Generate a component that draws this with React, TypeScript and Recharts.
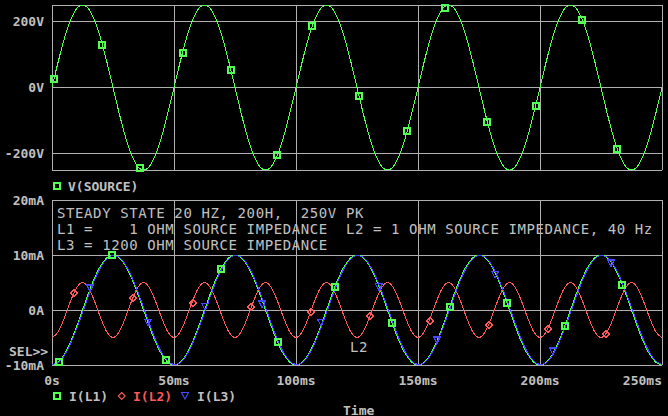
import { ComposedChart, Line, Scatter, XAxis, YAxis, CartesianGrid } from "recharts";

// time grid (ms), one sample every 2.5 ms from 0 to 250 ms
const timeMs = Array.from({ length: 101 }, (_, i) => i * 2.5);

// V(SOURCE) in volts
const vSource = [
  0, 77, 147, 202, 238, 250, 238, 202, 147, 77, 0, -77, -147, -202, -238, -250, -238, -202, -147, -77,
  0, 77, 147, 202, 238, 250, 238, 202, 147, 77, 0, -77, -147, -202, -238, -250, -238, -202, -147, -77,
  0, 77, 147, 202, 238, 250, 238, 202, 147, 77, 0, -77, -147, -202, -238, -250, -238, -202, -147, -77,
  0, 77, 147, 202, 238, 250, 238, 202, 147, 77, 0, -77, -147, -202, -238, -250, -238, -202, -147, -77,
  0, 77, 147, 202, 238, 250, 238, 202, 147, 77, 0, -77, -147, -202, -238, -250, -238, -202, -147, -77,
  0,
];

// currents in mA
const iL1 = [
  -10, -9.5, -8.1, -5.9, -3.1, 0, 3.1, 5.9, 8.1, 9.5, 10, 9.5, 8.1, 5.9, 3.1, 0, -3.1, -5.9, -8.1, -9.5,
  -10, -9.5, -8.1, -5.9, -3.1, 0, 3.1, 5.9, 8.1, 9.5, 10, 9.5, 8.1, 5.9, 3.1, 0, -3.1, -5.9, -8.1, -9.5,
  -10, -9.5, -8.1, -5.9, -3.1, 0, 3.1, 5.9, 8.1, 9.5, 10, 9.5, 8.1, 5.9, 3.1, 0, -3.1, -5.9, -8.1, -9.5,
  -10, -9.5, -8.1, -5.9, -3.1, 0, 3.1, 5.9, 8.1, 9.5, 10, 9.5, 8.1, 5.9, 3.1, 0, -3.1, -5.9, -8.1, -9.5,
  -10, -9.5, -8.1, -5.9, -3.1, 0, 3.1, 5.9, 8.1, 9.5, 10, 9.5, 8.1, 5.9, 3.1, 0, -3.1, -5.9, -8.1, -9.5,
  -10,
];

const iL2 = [
  -5, -4, -1.5, 1.5, 4, 5, 4, 1.5, -1.5, -4, -5, -4, -1.5, 1.5, 4, 5, 4, 1.5, -1.5, -4,
  -5, -4, -1.5, 1.5, 4, 5, 4, 1.5, -1.5, -4, -5, -4, -1.5, 1.5, 4, 5, 4, 1.5, -1.5, -4,
  -5, -4, -1.5, 1.5, 4, 5, 4, 1.5, -1.5, -4, -5, -4, -1.5, 1.5, 4, 5, 4, 1.5, -1.5, -4,
  -5, -4, -1.5, 1.5, 4, 5, 4, 1.5, -1.5, -4, -5, -4, -1.5, 1.5, 4, 5, 4, 1.5, -1.5, -4,
  -5, -4, -1.5, 1.5, 4, 5, 4, 1.5, -1.5, -4, -5, -4, -1.5, 1.5, 4, 5, 4, 1.5, -1.5, -4,
  -5,
];

const iL3 = [
  -9.9, -9.6, -8.3, -6.2, -3.5, -0.5, 2.6, 5.5, 7.8, 9.3, 9.9, 9.6, 8.3, 6.2, 3.5, 0.5, -2.6, -5.5, -7.8, -9.3,
  -9.9, -9.6, -8.3, -6.2, -3.5, -0.5, 2.6, 5.5, 7.8, 9.3, 9.9, 9.6, 8.3, 6.2, 3.5, 0.5, -2.6, -5.5, -7.8, -9.3,
  -9.9, -9.6, -8.3, -6.2, -3.5, -0.5, 2.6, 5.5, 7.8, 9.3, 9.9, 9.6, 8.3, 6.2, 3.5, 0.5, -2.6, -5.5, -7.8, -9.3,
  -9.9, -9.6, -8.3, -6.2, -3.5, -0.5, 2.6, 5.5, 7.8, 9.3, 9.9, 9.6, 8.3, 6.2, 3.5, 0.5, -2.6, -5.5, -7.8, -9.3,
  -9.9, -9.6, -8.3, -6.2, -3.5, -0.5, 2.6, 5.5, 7.8, 9.3, 9.9, 9.6, 8.3, 6.2, 3.5, 0.5, -2.6, -5.5, -7.8, -9.3,
  -9.9,
];

// marker points as placed by the plotter
const vMarkT = [0.8, 20.5, 36.1, 53.7, 73.4, 92.2, 106.6, 125.8, 145.5, 161.1, 178.3, 198.4, 217.2, 231.6];
const vMarkV = [27, 130, -245, 106, 52, -206, 185, -27, -133, 242, -106, -55, 206, -185];
const l1MarkT = [2.9, 24.6, 46.7, 69.3, 92.6, 116.0, 139.3, 163.1, 186.5, 210.2, 233.6];
const l1MarkV = [-9.4, 10, -9.0, 7.5, -5.9, 4.2, -2.4, 0.6, 1.2, -2.9, 4.6];
const l2MarkT = [9.0, 33.2, 57.8, 81.6, 106.1, 130.3, 154.9, 179.1, 203.3, 227.0];
const l2MarkV = [3.1, 2.2, 1.3, 0.55, -0.35, -1.1, -2.0, -2.7, -3.45, -4.35];
const l3MarkT = [15.6, 39.3, 62.7, 86.1, 110.2, 134.0, 157.8, 181.6, 205.3, 229.1];
const l3MarkV = [4.0, -2.2, 0.7, 1.1, -2.2, 4.2, -5.45, 6.5, -7.45, 8.55];

const timeTicks = [0, 50, 100, 150, 200, 250];
const timeLabels = ["0s", "50ms", "100ms", "150ms", "200ms", "250ms"];
const voltTicks = [-250, -200, 0, 200, 250];
const voltLabels: Record<number, string> = { "-200": "-200V", 0: "0V", 200: "200V" };
const ampTicks = [-10, 0, 10, 20];
const ampLabels: Record<number, string> = { "-10": "-10mA", 0: "0A", 10: "10mA", 20: "20mA" };

const GREEN = "#52ff52";
const RED = "#ff5858";
const BLUE = "#4848ff";
const GRAY = "#c0c0c0";
const GRID = "#b0b0b0";
const MONO = "'DejaVu Sans Mono', 'Liberation Mono', monospace";

const topData = timeMs.map((t, i) => ({ t, v: vSource[i] }));
const botData = timeMs.map((t, i) => ({ t, l1: iL1[i], l2: iL2[i], l3: iL3[i] }));
const marks = (ts: number[], vs: number[]) => ts.map((t, i) => ({ t, m: vs[i] }));

const Square = (p: any) => (
  <rect x={Math.round(p.cx) - 3} y={Math.round(p.cy) - 3} width={6} height={6} fill="none" stroke={GREEN} strokeWidth={1.3} />
);
const Diamond = (p: any) => (
  <path d={`M${p.cx},${p.cy - 3.5}L${p.cx + 3.5},${p.cy}L${p.cx},${p.cy + 3.5}L${p.cx - 3.5},${p.cy}Z`} fill="none" stroke={RED} strokeWidth={1.1} />
);
const Tri = (p: any) => (
  <path d={`M${p.cx - 3.5},${p.cy - 3}L${p.cx + 3.5},${p.cy - 3}L${p.cx},${p.cy + 3.5}Z`} fill="none" stroke={BLUE} strokeWidth={1.1} />
);

const yTick = (labels: Record<number, string>) => (p: any) => (
  <text x={p.x} y={p.y} dy={4.6} textAnchor="end" fill={GRAY} fontFamily={MONO} fontWeight="bold" fontSize={13}>
    {labels[p.payload.value] ?? ""}
  </text>
);

const xTick = (p: any) => {
  const idx = timeTicks.indexOf(p.payload.value);
  return (
    <text x={p.x} y={p.y} dy={20} textAnchor={idx === timeTicks.length - 1 ? "end" : "middle"} fill={GRAY} fontFamily={MONO} fontWeight="bold" fontSize={13}>
      {timeLabels[idx]}
    </text>
  );
};

export default function App() {
  const small = { fill: GRAY, fontFamily: MONO, fontWeight: "bold" as const, fontSize: 13 };
  const big = { fill: GRAY, fontFamily: MONO, fontSize: 14, letterSpacing: 0.6 };
  const crisp = { shapeRendering: "crispEdges" } as any;
  return (
    <div style={{ position: "absolute", left: 0, top: 0, width: 668, height: 416, background: "#000", overflow: "hidden" }}>
      <div style={{ position: "absolute", left: 0, top: 0, ...crisp }}>
        <ComposedChart width={668} height={195} data={topData} margin={{ top: 5, right: 6, bottom: 25, left: 0 }}>
          <CartesianGrid stroke={GRID} strokeWidth={1} />
          <XAxis dataKey="t" type="number" domain={[0, 250]} ticks={timeTicks} hide />
          <YAxis type="number" domain={[-250, 250]} ticks={voltTicks} width={52} axisLine={false} tickLine={false} tickSize={0} tickMargin={8} tick={yTick(voltLabels)} interval={0} />
          <Line dataKey="v" type="monotone" stroke={GREEN} strokeWidth={1} dot={false} activeDot={false} isAnimationActive={false} />
          <Scatter data={marks(vMarkT, vMarkV)} dataKey="m" shape={Square} isAnimationActive={false} />
        </ComposedChart>
      </div>
      <div style={{ position: "absolute", left: 0, top: 185, ...crisp }}>
        <ComposedChart width={668} height={231} data={botData} margin={{ top: 15, right: 6, bottom: 31, left: 0 }}>
          <CartesianGrid stroke={GRID} strokeWidth={1} />
          <XAxis dataKey="t" type="number" domain={[0, 250]} ticks={timeTicks} height={20} axisLine={false} tickLine={false} tickSize={0} tickMargin={0} tick={xTick} interval={0} />
          <YAxis type="number" domain={[-10, 20]} ticks={ampTicks} width={52} axisLine={false} tickLine={false} tickSize={0} tickMargin={8} tick={yTick(ampLabels)} interval={0} />
          <Line dataKey="l1" type="monotone" stroke={GREEN} strokeWidth={1} dot={false} activeDot={false} isAnimationActive={false} />
          <Line dataKey="l2" type="monotone" stroke={RED} strokeWidth={1} dot={false} activeDot={false} isAnimationActive={false} />
          <Line dataKey="l3" type="monotone" stroke={BLUE} strokeWidth={1} dot={false} activeDot={false} isAnimationActive={false} />
          <Scatter data={marks(l1MarkT, l1MarkV)} dataKey="m" shape={Square} isAnimationActive={false} />
          <Scatter data={marks(l2MarkT, l2MarkV)} dataKey="m" shape={Diamond} isAnimationActive={false} />
          <Scatter data={marks(l3MarkT, l3MarkV)} dataKey="m" shape={Tri} isAnimationActive={false} />
        </ComposedChart>
      </div>
      <svg width={668} height={416} style={{ position: "absolute", left: 0, top: 0, pointerEvents: "none" }}>
        {/* upper legend */}
        <rect x={54} y={183} width={6} height={6} fill="none" stroke={GREEN} strokeWidth={1.3} shapeRendering="crispEdges" />
        <text x={68} y={191} {...small}>V(SOURCE)</text>
        {/* annotation block */}
        <text x={57} y={218} {...big} xmlSpace="preserve" style={{ whiteSpace: "pre" }}>STEADY STATE 20 HZ, 200H,  250V PK</text>
        <text x={57} y={234} {...big} xmlSpace="preserve" style={{ whiteSpace: "pre" }}>L1 =    1 OHM SOURCE IMPEDANCE  L2 = 1 OHM SOURCE IMPEDANCE, 40 Hz</text>
        <text x={57} y={250} {...big} xmlSpace="preserve" style={{ whiteSpace: "pre" }}>L3 = 1200 OHM SOURCE IMPEDANCE</text>
        <text x={350} y={352} {...big}>L2</text>
        <text x={9} y={355.5} {...small}>SEL&gt;&gt;</text>
        {/* lower legend */}
        <rect x={54} y={393} width={6} height={6} fill="none" stroke={GREEN} strokeWidth={1.3} shapeRendering="crispEdges" />
        <text x={69} y={400.5} {...small}>I(L1)</text>
        <path d="M121.7,392.5L125.2,396L121.7,399.5L118.2,396Z" fill="none" stroke={RED} strokeWidth={1.1} />
        <text x={133} y={400.5} {...small} fill={RED}>I(L2)</text>
        <path d="M181.5,392.5L188.5,392.5L185,399Z" fill="none" stroke={BLUE} strokeWidth={1.1} />
        <text x={197} y={400.5} {...small}>I(L3)</text>
        <text x={343} y={414.5} {...small}>Time</text>
      </svg>
    </div>
  );
}
